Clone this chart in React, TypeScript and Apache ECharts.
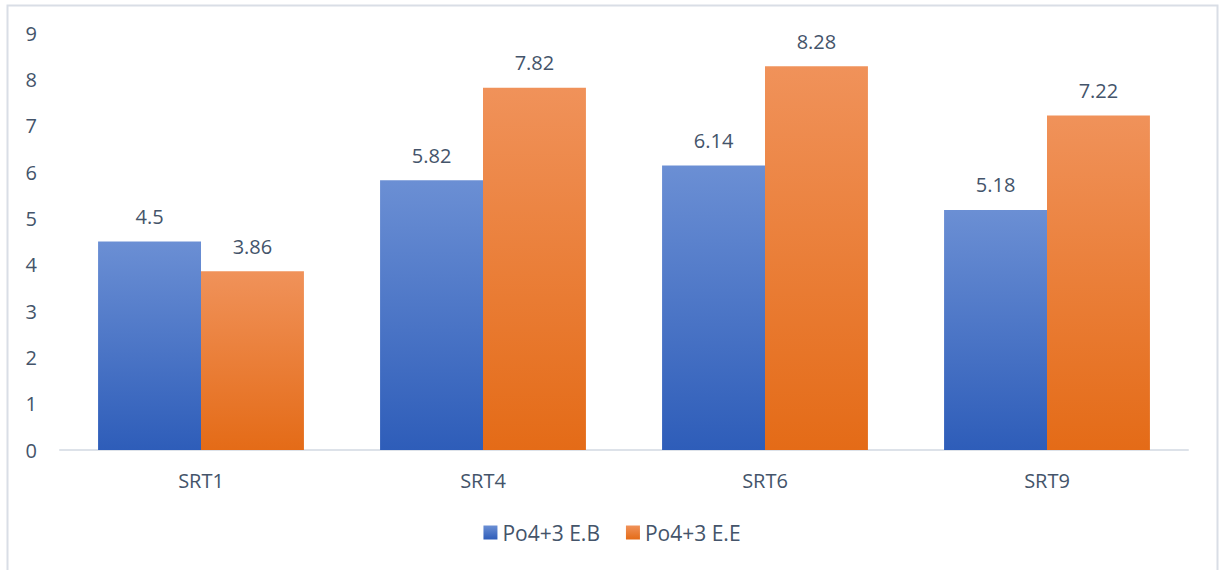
import React, { useEffect, useRef } from "react";
import * as echarts from "echarts";

const categories = ["SRT1", "SRT4", "SRT6", "SRT9"];
const seriesNames = ["Po4+3 E.B", "Po4+3 E.E"];
const valuesEB = [4.5, 5.82, 6.14, 5.18];
const valuesEE = [3.86, 7.82, 8.28, 7.22];

const textColor = "#44546a";
const font = "'Open Sans', 'Liberation Sans', sans-serif";
const fs = 20;

function grad(top: string, bottom: string) {
  return new echarts.graphic.LinearGradient(0, 0, 0, 1, [
    { offset: 0, color: top },
    { offset: 1, color: bottom },
  ]);
}

export default function App() {
  const ref = useRef<HTMLDivElement>(null);
  useEffect(() => {
    if (!ref.current) return;
    const chart = echarts.init(ref.current, undefined, { renderer: "svg" });
    const label = {
      show: true,
      position: "top",
      distance: 15,
      color: textColor,
      fontSize: fs,
      fontFamily: font,
    };
    chart.setOption({
      animation: false,
      backgroundColor: "#ffffff",
      graphic: [
        {
          type: "rect",
          shape: { x: 7.5, y: 5.5, width: 1210, height: 620 },
          style: { fill: "none", stroke: "#d9dee6", lineWidth: 2 },
          silent: true,
        },
      ],
      grid: { left: 60, right: 36, top: 33, bottom: 120 },
      legend: {
        bottom: 22,
        left: "center",
        itemWidth: 14,
        itemHeight: 14,
        itemGap: 26,
        icon: "rect",
        textStyle: { color: textColor, fontSize: 21, fontFamily: font },
        data: seriesNames,
      },
      xAxis: {
        type: "category",
        data: categories,
        axisLine: { lineStyle: { color: "#dde2e9", width: 2 } },
        axisTick: { show: false },
        axisLabel: { color: textColor, fontSize: fs, fontFamily: font, margin: 20 },
      },
      yAxis: {
        type: "value",
        min: 0,
        max: 9,
        interval: 1,
        splitLine: { show: false },
        axisLine: { show: false },
        axisTick: { show: false },
        axisLabel: { color: textColor, fontSize: fs, fontFamily: font, margin: 23 },
      },
      series: [
        {
          name: seriesNames[0],
          type: "bar",
          data: valuesEB,
          barGap: "0%",
          barCategoryGap: "27%",
          itemStyle: { color: grad("#6b8fd4", "#2e5db9") },
          label,
        },
        {
          name: seriesNames[1],
          type: "bar",
          data: valuesEE,
          itemStyle: { color: grad("#f0925a", "#e46b17") },
          label,
        },
      ],
    });
    return () => chart.dispose();
  }, []);
  return (
    <div
      ref={ref}
      style={{ position: "fixed", left: 0, top: 0, width: 1224, height: 570 }}
    />
  );
}
